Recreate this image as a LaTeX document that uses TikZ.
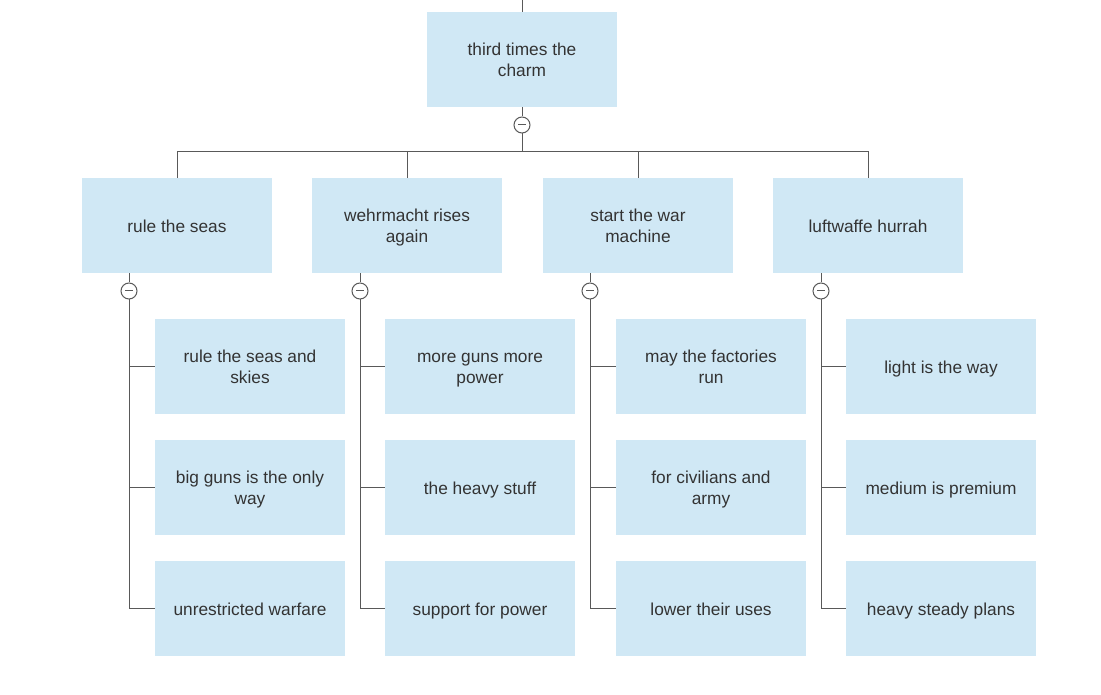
\documentclass[tikz,border=0pt]{standalone}
\usepackage{fontspec}
\setmainfont{Liberation Sans}
\definecolor{boxfill}{HTML}{D0E8F5}
\definecolor{txt}{HTML}{333333}
\definecolor{ln}{HTML}{595959}
\newcommand{\tstr}{\rule{0pt}{19.2pt}\strut}
\begin{document}
\begin{tikzpicture}[x=1pt,y=-1pt,
  box/.style={fill=boxfill,draw=none,minimum width=190pt,minimum height=95pt,inner sep=0pt,align=center,text=txt,font=\fontsize{17.3}{20.5}\selectfont},
  conn/.style={draw=ln,line width=1pt},
  tog/.style={circle,draw=ln,fill=white,line width=1pt,minimum size=16pt,inner sep=0pt,
    path picture={\draw[ln,line width=1pt] ([xshift=-4pt]path picture bounding box.center) -- ([xshift=4pt]path picture bounding box.center);}}]
\useasboundingbox (0,0) rectangle (1101,695);
\coordinate (top) at (522,0);
\node[box] (root) at (522,59.5) {\tstr third times the\\\strut charm};
\node[tog] (c0) at (522,125) {};
\node[box] (L1) at (177,225.5) {\tstr rule the seas};
\node[box] (L2) at (407,225.5) {\tstr wehrmacht rises\\\strut again};
\node[box] (L3) at (638,225.5) {\tstr start the war\\\strut machine};
\node[box] (L4) at (868,225.5) {\tstr luftwaffe hurrah};
\node[tog] (c1) at (129,291) {};
\node[tog] (c2) at (360,291) {};
\node[tog] (c3) at (590,291) {};
\node[tog] (c4) at (821,291) {};
\node[box] (a1) at (250,366.5) {\tstr rule the seas and\\\strut skies};
\node[box] (a2) at (250,487.5) {\tstr big guns is the only\\\strut way};
\node[box] (a3) at (250,608.5) {\tstr unrestricted warfare};
\node[box] (b1) at (480,366.5) {\tstr more guns more\\\strut power};
\node[box] (b2) at (480,487.5) {\tstr the heavy stuff};
\node[box] (b3) at (480,608.5) {\tstr support for power};
\node[box] (d1) at (711,366.5) {\tstr may the factories\\\strut run};
\node[box] (d2) at (711,487.5) {\tstr for civilians and\\\strut army};
\node[box] (d3) at (711,608.5) {\tstr lower their uses};
\node[box] (e1) at (941,366.5) {\tstr light is the way};
\node[box] (e2) at (941,487.5) {\tstr medium is premium};
\node[box] (e3) at (941,608.5) {\tstr heavy steady plans};
\draw[conn] (top) -- (root.north);
\draw[conn] (root.south) -- (c0.north);
\coordinate (bar) at (522,152);
\draw[conn] (c0.south) -- (bar);
\foreach \n in {L1,L2,L3,L4} {\draw[conn] (bar) -| (\n.north);}
\foreach \c/\p in {c1/L1,c2/L2,c3/L3,c4/L4} {\draw[conn] (\c.north) -- (\c |- \p.south);}
\foreach \c/\k in {c1/a1,c1/a2,c1/a3,c2/b1,c2/b2,c2/b3,c3/d1,c3/d2,c3/d3,c4/e1,c4/e2,c4/e3} {\draw[conn] (\c.south) |- (\k.west);}
\end{tikzpicture}
\end{document}
